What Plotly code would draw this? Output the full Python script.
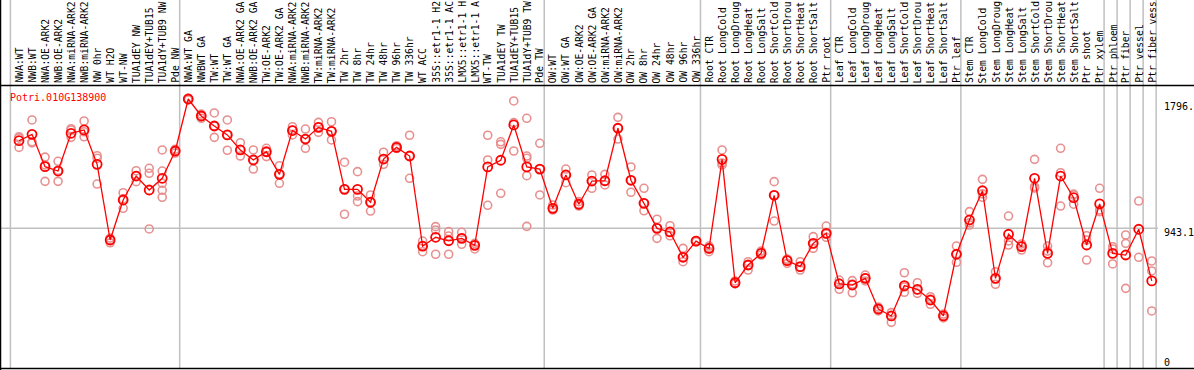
import plotly.graph_objects as go

categories = [
    "NWA:WT", "NWB:WT", "NWA:OE-ARK2", "NWB:OE-ARK2", "NWA:miRNA-ARK2", "NWB:miRNA-ARK2",
    "NW 0hr", "WT H2O", "WT-NW", "TUA1dEY NW", "TUA1dEY+TUB15 NW", "TUA1dY+TUB9 NW", "Pde NW",
    "NWA:WT GA", "NWBWT GA", "TW:WT", "TW:WT GA", "NWA:OE-ARK2 GA", "NWB:OE-ARK2 GA",
    "TW:OE-ARK2", "TW:OE-ARK2 GA", "NWA:miRNA-ARK2 GA", "NWB:miRNA-ARK2 GA", "TW:miRNA-ARK2",
    "TW:miRNA-ARK2 GA", "TW 2hr", "TW 8hr", "TW 24hr", "TW 48hr", "TW 96hr", "TW 336hr",
    "WT ACC", "35S::etr1-1 H2O", "35S::etr1-1 ACC", "LMX5::etr1-1 H2O", "LMX5::etr1-1 ACC",
    "WT-TW", "TUA1dEY TW", "TUA1dEY+TUB15 TW", "TUA1dY+TUB9 TW", "Pde TW",
    "OW:WT", "OW:WT GA", "OW:OE-ARK2", "OW:OE-ARK2 GA", "OW:miRNA-ARK2", "OW:miRNA-ARK2 GA",
    "OW 2hr", "OW 8hr", "OW 24hr", "OW 48hr", "OW 96hr", "OW 336hr",
    "Root CTR", "Root LongCold", "Root LongDrought", "Root LongHeat", "Root LongSalt",
    "Root ShortCold", "Root ShortDrought", "Root ShortHeat", "Root ShortSalt", "Ptr root",
    "Leaf CTR", "Leaf LongCold", "Leaf LongDrought", "Leaf LongHeat", "Leaf LongSalt",
    "Leaf ShortCold", "Leaf ShortDrought", "Leaf ShortHeat", "Leaf ShortSalt", "Ptr leaf",
    "Stem CTR", "Stem LongCold", "Stem LongDrought", "Stem LongHeat", "Stem LongSalt",
    "Stem ShortCold", "Stem ShortDrought", "Stem ShortHeat", "Stem ShortSalt", "Ptr shoot",
    "Ptr xylem", "Ptr phloem", "Ptr fiber", "Ptr vessel", "Ptr fiber vessel",
]

means = [
    1521, 1563, 1350, 1321, 1570, 1592, 1365, 866, 1130, 1288, 1196, 1273, 1453,
    1796, 1684, 1618, 1559, 1460, 1394, 1448, 1299, 1588, 1532, 1609, 1583, 1200, 1200,
    1115, 1400, 1477, 1420, 825, 884, 861, 877, 831, 1348, 1392, 1625, 1348, 1334,
    1075, 1295, 1102, 1255, 1257, 1603, 1260, 1108, 943, 919, 752, 859,
    810, 1398, 584, 701, 778, 1161, 730, 690, 844, 910,
    576, 569, 613, 411, 365, 565, 541, 470, 365, 772,
    998, 1191, 613, 904, 822, 1273, 778, 1288, 1145, 833, 1104,
    778, 767, 937, 596,
]

replicates = [
    [1547, 1477, 1540], [1658, 1514, 1506], [1413, 1253, 1361], [1385, 1253, 1325],
    [1600, 1592, 1543], [1651, 1547, 1580], [1422, 1405, 1235], [866, 848, 879],
    [1178, 1075, 1137], [1323, 1251, 1290], [1339, 1306, 939],
    [1460, 1321, 1240, 1194, 1148], [1453, 1440, 1465],
    [1796, 1790, 1800], [1697, 1669, 1684], [1704, 1543, 1618], [1658, 1458, 1559],
    [1508, 1420, 1460], [1460, 1334, 1394], [1471, 1416, 1448], [1356, 1240, 1301],
    [1613, 1559, 1592], [1598, 1471, 1532], [1642, 1576, 1611], [1646, 1526, 1585],
    [1379, 1036, 1202], [1317, 1156, 1119], [1163, 1057, 1117], [1445, 1365, 1400],
    [1488, 1480, 1470], [1557, 1273, 1420], [859, 789, 826], [954, 932, 772],
    [921, 772, 892], [917, 838, 879], [844, 807, 831], [1557, 1394, 1095],
    [1514, 1497, 1174], [1783, 1640, 1453], [1669, 1420, 1405, 1290, 956],
    [1504, 1163, 1334],
    [1097, 1075, 1064], [1334, 1244, 1295], [1119, 1102, 1090], [1295, 1207, 1255],
    [1299, 1229, 1255], [1675, 1532, 1605], [1348, 1181, 1262], [1207, 1059, 1110],
    [1003, 877, 945], [960, 894, 919], [811, 723, 754], [859, 855, 862],
    [789, 813, 826], [1460, 1361, 1374], [584, 576, 596], [723, 668, 701],
    [793, 780, 767], [1251, 991, 1163], [712, 734, 741], [723, 668, 688],
    [888, 811, 840], [958, 884, 906],
    [602, 541, 582], [598, 518, 576], [635, 615, 596], [411, 424, 398],
    [387, 323, 365], [650, 521, 556], [584, 514, 536], [492, 442, 477],
    [378, 365, 352], [826, 719, 774],
    [1053, 965, 979], [1266, 1148, 1170], [657, 574, 609], [1024, 833, 860],
    [800, 826, 840], [1398, 1218, 1209], [826, 716, 793], [1471, 1310, 1090],
    [1169, 1102, 1163], [894, 734, 866], [1207, 1053, 1064],
    [822, 708, 807], [899, 844, 547], [1123, 752], [728, 662, 398],
]

group_ends = [-1, 12, 40, 52, 62, 72, 83, 84, 85, 86, 87]
gene_name = "Potri.010G138900"
axis_labels = ["1796.", "943.1", "0"]
axis_label_values = [1796, 943.1, 0]
label_max_chars = 14  # the label band only has room for this many characters

W, H = 1194, 370
# pixel mapping helpers for layout
x0_px, dx_px = 19.0, 13.02
xr = [(0 - x0_px) / dx_px, (W - x0_px) / dx_px]
y_zero_px, per_px = 371.3, 6.596
yr = [(y_zero_px - H) * per_px, y_zero_px * per_px]

def ypaper(px):
    return 1 - px / H

fig = go.Figure()

rx, ry = [], []
for i, reps in enumerate(replicates):
    for v in reps:
        rx.append(i)
        ry.append(v)

fig.add_trace(go.Scatter(
    x=rx, y=ry, mode="markers",
    marker=dict(symbol="circle-open", size=8, color="#e89090", line=dict(width=1.6, color="#e89090")),
    hoverinfo="skip", showlegend=False,
))
fig.add_trace(go.Scatter(
    x=list(range(len(means))), y=means, mode="lines+markers",
    line=dict(color="#ff0000", width=1.3),
    marker=dict(symbol="circle-open", size=9, color="#ff0000", line=dict(width=1.8, color="#ff0000")),
    showlegend=False,
))

shapes = []
for g in group_ends:
    xv = g + 0.34
    shapes.append(dict(type="line", xref="x", yref="paper", x0=xv, x1=xv, y0=ypaper(368), y1=1,
                       line=dict(color="#c0c0c0", width=1.5), layer="below"))
# horizontal reference line at middle value
shapes.append(dict(type="line", xref="paper", yref="y", x0=0, x1=1158 / W, y0=axis_label_values[1],
                   y1=axis_label_values[1], line=dict(color="#c0c0c0", width=1.5), layer="below"))
# frame lines
shapes.append(dict(type="line", xref="paper", yref="paper", x0=0, x1=1, y0=ypaper(85.5), y1=ypaper(85.5),
                   line=dict(color="black", width=1.5)))
shapes.append(dict(type="line", xref="paper", yref="paper", x0=0, x1=1, y0=ypaper(368.5), y1=ypaper(368.5),
                   line=dict(color="black", width=1.5)))
shapes.append(dict(type="line", xref="paper", yref="paper", x0=0.5 / W, x1=0.5 / W, y0=0, y1=1,
                   line=dict(color="black", width=1.5)))

mono = "DejaVu Sans Mono"
annotations = []
for i, c in enumerate(categories):
    annotations.append(dict(x=i, xref="x", y=ypaper(84), yref="paper", text=c[:label_max_chars],
                            textangle=-90, xanchor="center", yanchor="bottom", showarrow=False,
                            font=dict(family=mono, size=9.7, color="black"), borderpad=0))
annotations.append(dict(x=9 / W, xref="paper", y=ypaper(97.5), yref="paper", text=gene_name,
                        xanchor="left", yanchor="middle", showarrow=False,
                        font=dict(family=mono, size=10, color="#ff0000"), borderpad=0))
for lbl, py in zip(axis_labels, [107, 232, 362]):
    annotations.append(dict(x=1163 / W, xref="paper", y=ypaper(py), yref="paper", text=lbl,
                            xanchor="left", yanchor="middle", showarrow=False,
                            font=dict(family=mono, size=10, color="black"), borderpad=0))

fig.update_layout(
    width=W, height=H, margin=dict(l=0, r=0, t=0, b=0, pad=0),
    paper_bgcolor="white", plot_bgcolor="white",
    xaxis=dict(range=xr, visible=False, fixedrange=True),
    yaxis=dict(range=yr, visible=False, fixedrange=True),
    shapes=shapes, annotations=annotations,
)

fig.write_html("out.html", config={"displayModeBar": False},
               post_script="document.body.style.margin='0';document.body.style.overflow='hidden';")
